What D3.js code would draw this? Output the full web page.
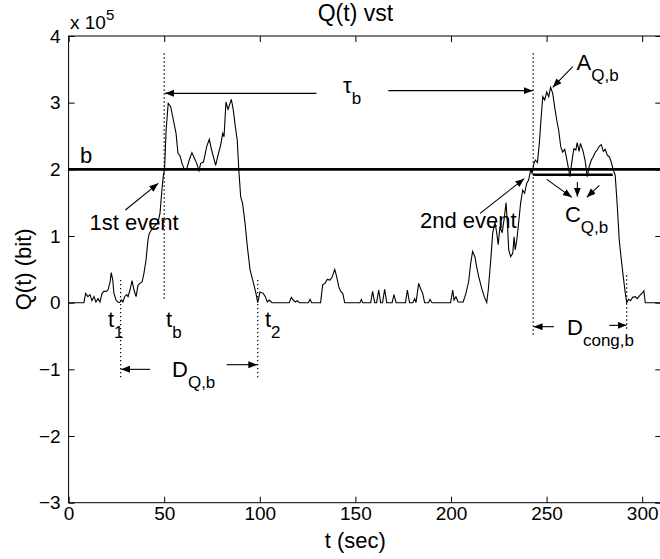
<!DOCTYPE html>
<html>
<head>
<meta charset="utf-8">
<script src="https://cdn.jsdelivr.net/npm/d3@7"></script>
<style>
  body { margin: 0; background: #fff; }
  svg text { font-family: "Liberation Sans", Arial, Helvetica, sans-serif; }
</style>
</head>
<body>
<svg id="chart" width="660" height="559"></svg>
<script>
// queue length samples: time (sec) and Q (x 10^5 bit)
const times = [0, 8.0, 8.9, 10.1, 11.2, 12.2, 13.3, 14.3, 15.4, 16.4, 17.5, 18.5, 19.6, 20.6, 21.7, 22.3, 23.1, 23.7, 24.8, 25.8, 26.7,
  27.6, 28.4, 29.3, 30.4, 31.1, 32.1, 33.2, 34.2, 35.3, 36.3, 37.3, 38.4, 39.4, 40.5, 41.5, 42.2, 43.3, 44.3, 45.3, 46.8, 47.8, 48.8, 49.5, 50.2,
  51.0, 52.1, 53.4, 54.8, 56.2, 57.2, 58.3, 59.3, 60.4, 61.8, 63.1, 64.5, 65.9, 67.0, 68.2, 69.1, 70.5, 71.3, 72.2, 73.6, 74.8, 76.9, 78.3,
  79.5, 80.6, 81.3, 82.3, 83.4, 85.1, 86.1, 87.2, 88.2, 89.0, 90.0, 91.0, 92.3, 93.5, 94.9, 96.3, 98.0, 98.9, 100.1, 101.8, 102.9, 103.9,
  105.0, 106.4, 115.4, 116.5, 117.5, 118.6, 119.6, 120.7, 125.4, 126.3, 127.1, 131.8, 132.9, 134.1, 135.3, 136.7, 137.8, 139.2, 140.2,
  141.3, 142.3, 143.4, 144.4, 152.4, 153.1, 153.8, 158.0, 159.0, 160.1, 161.1, 162.2, 163.2, 164.2, 165.3, 166.4, 169.2, 170.2, 171.3,
  176.2, 177.2, 178.3, 180.0, 181.0, 181.7, 183.1, 184.1, 185.2, 186.2, 188.3, 189.0, 190.1, 199.8, 200.9, 201.6, 202.6, 203.7, 206.4,
  207.8, 209.2, 210.3, 211.3, 212.5, 213.4, 214.5, 216.1, 217.4, 218.7, 219.5, 220.8, 221.8, 223.0, 223.9, 224.7, 225.6, 226.8, 228.0,
  228.8, 229.5, 230.2, 231.2, 232.3, 233.0, 233.6, 234.4, 235.0, 235.7, 236.4, 237.5, 238.5, 239.6, 240.6, 241.7, 242.4, 243.4, 244.1,
  245.2, 246.2, 247.2, 248.0, 249.0, 250.1, 251.1, 252.1, 253.2, 254.2, 255.3, 256.3, 257.4, 258.4, 259.5, 260.5, 261.6, 262.2, 262.9,
  263.6, 264.3, 265.3, 266.0, 267.0, 267.7, 268.4, 269.1, 270.1, 271.3, 272.3, 273.4, 274.4, 275.5, 276.5, 277.6, 278.6, 279.7, 280.7,
  281.8, 282.8, 283.8, 284.9, 285.9, 287.0, 288.0, 289.1, 290.1, 291.2, 291.9, 292.9, 293.9, 295.0, 296.4, 297.4, 298.8, 300.2, 300.9,
  301.6, 310];
const queue = [0, 0, 0.14, 0.09, 0.12, 0.03, 0.09, 0.01, 0.06, 0.01, 0.14, 0.17, 0.17, 0.19, 0.31, 0.45, 0.34, 0.14, 0.04, 0.01, 0,
  0.04, 0.01, 0.09, 0.12, 0.09, 0.19, 0.33, 0.19, 0.09, 0.26, 0.29, 0.31, 0.44, 0.64, 0.94, 1.04, 1.09, 1.13, 1.16, 1.21, 1.34, 1.69, 1.89, 2.01,
  2.59, 2.99, 2.94, 2.74, 2.54, 2.24, 2.2, 2.09, 2.01, 2.01, 2.14, 2.25, 2.16, 2.09, 1.98, 2.09, 2.11, 2.21, 2.34, 2.45, 2.29, 2.06, 2.23,
  2.36, 2.54, 2.49, 3.01, 2.9, 3.05, 2.9, 2.64, 2.44, 2.0, 1.59, 1.49, 1.19, 0.84, 0.49, 0.34, 0.14, 0, 0.16, 0.14, 0.09, 0.01,
  0.04, 0, 0, 0.08, 0.04, 0.01, 0.03, 0, 0, 0.05, 0, 0, 0.27, 0.29, 0.35, 0.34, 0.38, 0.5, 0.39,
  0.24, 0.17, 0.14, 0, 0, 0.05, 0, 0, 0.17, 0, 0, 0.19, 0, 0, 0.2, 0, 0, 0.12, 0,
  0, 0.19, 0, 0, 0.06, 0, 0.29, 0.21, 0.14, 0, 0, 0.05, 0, 0, 0.19, 0.04, 0.09, 0.01, 0.01,
  0.14, 0.31, 0.59, 0.77, 0.69, 0.54, 0.39, 0.21, 0.09, 0, 0.19, 0.64, 1.04, 1.21, 1.05, 0.87, 1.14, 1.05, 1.3,
  1.5, 1.2, 0.79, 0.69, 0.74, 0.99, 0.79, 0.94, 1.09, 1.29, 1.49, 1.69, 1.64, 1.79, 1.84, 1.99, 1.94, 2.09, 2.14,
  2.1, 2.39, 2.79, 3.09, 3.04, 3.16, 3.09, 3.23, 3.14, 2.94, 2.74, 2.59, 2.34, 2.26, 2.3, 2.16, 1.99, 1.89, 2.04,
  2.19, 2.31, 2.29, 2.4, 2.27, 2.39, 2.33, 2.27, 2.14, 1.89, 2.04, 2.14, 2.19, 2.26, 2.29, 2.35, 2.37, 2.27, 2.3,
  2.21, 2.19, 2.11, 1.99, 1.91, 1.44, 0.94, 0.64, 0.39, 0.14, 0, 0.05, 0.03, 0.08, 0.09, 0.06, 0.11, 0.15, 0.18,
  0, 0];

const xTicks = [0, 50, 100, 150, 200, 250, 300];
const yTicks = [-3, -2, -1, 0, 1, 2, 3, 4];
const threshold = 2;          // b
const cLevel = 1.92;          // C_Q,b bar
const cRange = [243, 284.6];

// dotted markers: [t, from, to]
const dotted = [[50, 3.74, 0.04], [27.2, 0.34, -1.12], [98.9, 0.34, -1.12], [243, 3.74, -0.48], [291.9, 0.41, -0.41]];
// arrows: [t0, q0, t1, q1]
const arrows = [
  [129.6, 3.14, 50.4, 3.14], [167.2, 3.18, 242.8, 3.18],
  [42.6, -1.0, 27.4, -1.0], [82.7, -0.93, 98.7, -0.93],
  [253.9, -0.36, 243.2, -0.36], [282.8, -0.34, 291.8, -0.34],
  [29.7, 1.39, 46.9, 1.79], [215.2, 1.34, 238.3, 1.86],
  [263.7, 3.54, 253.2, 3.23],
  [250.1, 1.85, 263.2, 1.58], [266.1, 1.81, 266.1, 1.59], [277.6, 1.76, 271.0, 1.58]
];
// labels: [t, q, main, sub]
const labels = [
  [5.9, 2.09, "b", ""], [10.9, 1.09, "1st event", ""], [183.8, 1.12, "2nd event", ""],
  [143.5, 3.14, "τ", "b"], [265.7, 3.49, "A", "Q,b"], [259.6, 1.21, "C", "Q,b"],
  [20.6, -0.36, "t", "1"], [51, -0.36, "t", "b"], [102.7, -0.36, "t", "2"],
  [54.1, -1.11, "D", "Q,b"], [260.7, -0.48, "D", "cong,b"]
];

const svg = d3.select("#chart");
const x = d3.scaleLinear().domain([0, 310]).range([68.6, 661.3]);
const y = d3.scaleLinear().domain([-3, 4]).range([502.7, 36]);

svg.append("defs").append("marker")
    .attr("id", "head")
    .attr("markerUnits", "userSpaceOnUse")
    .attr("markerWidth", 10).attr("markerHeight", 8)
    .attr("refX", 9).attr("refY", 3.5)
    .attr("orient", "auto")
    .append("path").attr("d", "M0,0L9,3.5L0,7Z").attr("fill", "#000");

// axes with inward ticks on all four sides
const fmt = d3.format("d");
const axes = [
  [d3.axisBottom(x).tickValues(xTicks).tickFormat(fmt), `translate(0,${y(-3)})`, 4],
  [d3.axisTop(x).tickValues(xTicks).tickFormat(""), `translate(0,${y(4)})`, 0],
  [d3.axisLeft(y).tickValues(yTicks).tickFormat(fmt), `translate(${x(0)},0)`, 8],
  [d3.axisRight(y).tickValues(yTicks).tickFormat(""), `translate(${x(310)},0)`, 0]
];
axes.forEach(([ax, tr, pad]) => {
  const g = svg.append("g").attr("transform", tr)
      .call(ax.tickSizeInner(-6).tickSizeOuter(0).tickPadding(pad));
  g.select(".domain").remove();
  g.selectAll("line").attr("stroke", "#000");
  g.selectAll("text").attr("fill", "#000").style("font-size", "19px");
});

svg.append("rect")
    .attr("x", x(0)).attr("y", y(4))
    .attr("width", x(310) - x(0)).attr("height", y(-3) - y(4))
    .attr("fill", "none").attr("stroke", "#000").attr("stroke-width", 1);

// threshold b
svg.append("line")
    .attr("x1", x(0)).attr("x2", x(310))
    .attr("y1", y(threshold)).attr("y2", y(threshold))
    .attr("stroke", "#000").attr("stroke-width", 2.6);

// C_Q,b bar
svg.append("line")
    .attr("x1", x(cRange[0])).attr("x2", x(cRange[1]))
    .attr("y1", y(cLevel)).attr("y2", y(cLevel))
    .attr("stroke", "#000").attr("stroke-width", 2.4);

// the series
const data = times.map((t, i) => ({t, q: queue[i]}));
svg.append("path")
    .datum(data)
    .attr("fill", "none")
    .attr("stroke", "#000")
    .attr("stroke-width", 1.1)
    .attr("d", d3.line().x(d => x(d.t)).y(d => y(d.q)));

svg.append("g").selectAll("line")
    .data(dotted)
    .join("line")
    .attr("x1", d => x(d[0])).attr("x2", d => x(d[0]))
    .attr("y1", d => y(d[1])).attr("y2", d => y(d[2]))
    .attr("stroke", "#000").attr("stroke-width", 1.2)
    .attr("stroke-dasharray", "1.3,2.7");

svg.append("g").selectAll("line")
    .data(arrows)
    .join("line")
    .attr("x1", d => x(d[0])).attr("y1", d => y(d[1]))
    .attr("x2", d => x(d[2])).attr("y2", d => y(d[3]))
    .attr("stroke", "#000").attr("stroke-width", 1.1)
    .attr("marker-end", "url(#head)");

const lab = svg.append("g").selectAll("text")
    .data(labels)
    .join("text")
    .attr("x", d => x(d[0])).attr("y", d => y(d[1]))
    .style("font-size", "22px");
lab.append("tspan").text(d => d[2]);
lab.filter(d => d[3]).append("tspan")
    .attr("dy", 11)
    .style("font-size", "17px")
    .text(d => d[3]);

// title, axis labels, exponent
svg.append("text")
    .attr("x", x(150)).attr("y", 21)
    .attr("text-anchor", "middle")
    .style("font-size", "23px")
    .text("Q(t) vst");

svg.append("text")
    .attr("x", x(150)).attr("y", 548)
    .attr("text-anchor", "middle")
    .style("font-size", "22px")
    .text("t (sec)");

svg.append("text")
    .attr("transform", `translate(31,${y(0.5)}) rotate(-90)`)
    .attr("text-anchor", "middle")
    .style("font-size", "22px")
    .text("Q(t) (bit)");

const ex = svg.append("text")
    .attr("x", 70).attr("y", 29)
    .style("font-size", "19px");
ex.append("tspan").text("x 10");
ex.append("tspan").attr("dy", -9).style("font-size", "15px").text("5");
</script>
</body>
</html>
